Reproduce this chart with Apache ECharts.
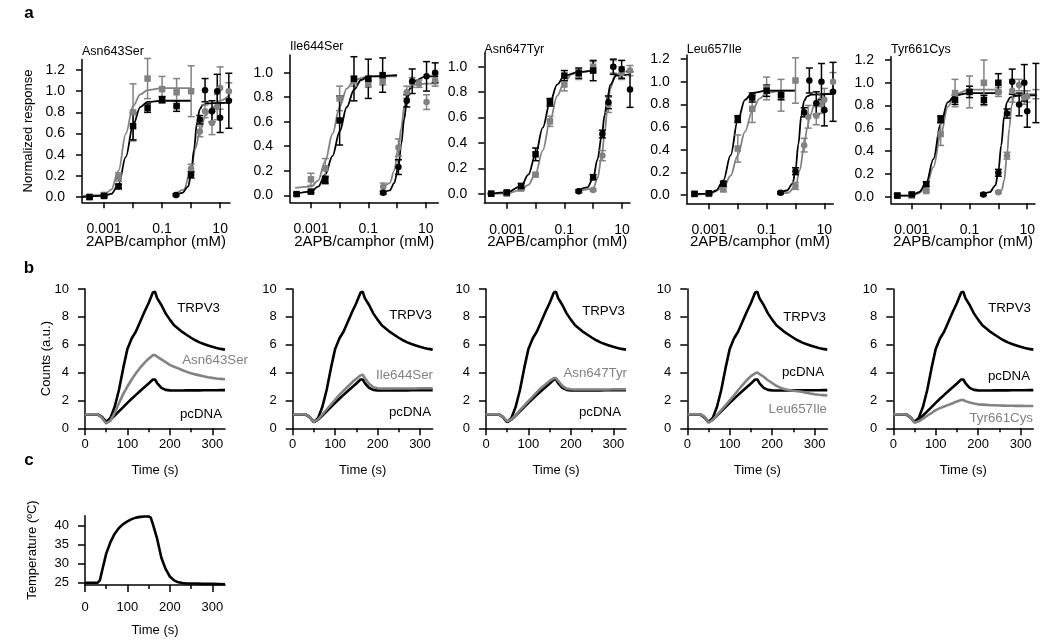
<!DOCTYPE html>
<html><head><meta charset="utf-8">
<script src="https://cdn.jsdelivr.net/npm/echarts@6/dist/echarts.min.js"></script>
<style>html,body{margin:0;padding:0;background:#fff}#c{width:1050px;height:642px}</style>
</head><body><div id="c"></div><script>
// ---------------- DATA ----------------
const mutantNames = ['Asn643Ser','Ile644Ser','Asn647Tyr','Leu657Ile','Tyr661Cys'];
// dose axis (log10 of mM)
const doseTickLogs = [-3,-2,-1,0,1];
const doseLabelLogs = [-3,-1,1];
const doseLabelText = ['0.001','0.1','10'];
const respTicks12 = [0,0.2,0.4,0.6,0.8,1.0,1.2];
const respTicks10 = [0,0.2,0.4,0.6,0.8,1.0];
const countTicks = [0,2,4,6,8,10];
const tempTicks = [25,30,35,40];
const timeMajorTicks = [0,100,200,300];
const timeMinorTicks = [50,150,250];

// points: [log10 conc (mM), normalized response, s.e.m.]
const a1ApbMut = [[-3.5,0.00,0.01],[-3,0.02,0.02],[-2.5,0.19,0.04],[-2,0.80,0.27],[-1.5,1.12,0.19],[-1,1.02,0.12],[-0.5,0.99,0.13],[0,1.00,0.24]];
const a1ApbWt  = [[-3.5,0.00,0.01],[-3,0.01,0.01],[-2.5,0.10,0.02],[-2,0.67,0.13],[-1.5,0.84,0.04],[-1,0.92,0.03],[-0.5,0.86,0.05]];
const a1CamMut = [[-0.52,0.02,0.01],[0,0.27,0.04],[0.3,0.62,0.05],[0.48,0.81,0.06],[0.72,0.70,0.11],[0.9,0.85,0.12],[1.0,1.03,0.2],[1.3,1.00,0.08]];
const wtCam    = [[-0.52,0.02,0.01],[0,0.21,0.03],[0.3,0.73,0.04],[0.48,1.01,0.11],[0.72,0.81,0.1],[0.9,1.00,0.16],[1.0,0.75,0.14],[1.3,0.91,0.26]];

const a2ApbMut = [[-3,0.13,0.05],[-2.5,0.22,0.08],[-2,0.79,0.1],[-1.5,0.93,0.04],[-1,0.91,0.03],[-0.5,0.93,0.03]];
const a2ApbWt  = [[-3.5,0.01,0.01],[-3,0.03,0.01],[-2.5,0.125,0.03],[-2,0.61,0.2],[-1.5,0.95,0.18],[-1,0.95,0.16],[-0.5,0.98,0.14]];
const a2CamMut = [[-0.48,0.07,0.03],[0.05,0.39,0.07],[0.34,0.84,0.05],[0.53,0.92,0.04],[0.77,0.91,0.03],[1.03,0.76,0.06],[1.33,0.94,0.05]];
const a2CamWt  = [[-0.48,0.02,0.01],[0.05,0.23,0.06],[0.34,0.77,0.05],[0.53,0.93,0.1],[1.03,0.97,0.12],[1.33,1.00,0.08]];

const a3ApbMut = [[-3.54,0.00,0.005],[-3,0.00,0.01],[-2.5,0.04,0.01],[-2,0.15,0.01],[-1.5,0.57,0.04],[-1,0.86,0.05],[-0.5,0.94,0.04],[0,1.00,0.04]];
const a3ApbWt  = [[-3.54,0.00,0.005],[-3,0.01,0.01],[-2.5,0.06,0.02],[-2,0.31,0.05],[-1.5,0.72,0.03],[-1,0.93,0.04],[-0.5,0.95,0.04],[0,0.97,0.08]];
const a3CamMut = [[-0.5,0.02,0.01],[0,0.03,0.01],[0.32,0.30,0.04],[0.53,0.70,0.06],[0.7,1.00,0.05],[0.99,0.95,0.05],[1.28,0.97,0.04]];
const a3CamWt  = [[-0.5,0.02,0.01],[0,0.13,0.02],[0.32,0.47,0.03],[0.53,0.72,0.05],[0.7,1.00,0.06],[0.99,0.98,0.07],[1.28,0.82,0.14]];

const a4ApbMut = [[-3.5,0.01,0.01],[-3,0.01,0.01],[-2.5,0.05,0.02],[-2,0.41,0.12],[-1.5,0.76,0.12],[-1,0.94,0.1],[-0.5,0.88,0.14],[0,1.01,0.2]];
const a4ApbWt  = [[-3.5,0.01,0.01],[-3,0.015,0.01],[-2.5,0.10,0.02],[-2,0.67,0.03],[-1.5,0.86,0.04],[-1,0.92,0.05],[-0.5,0.88,0.04]];
const a4CamMut = [[0,0.08,0.03],[0.3,0.44,0.06],[0.44,0.69,0.1],[0.72,0.70,0.08],[0.9,0.80,0.08],[1.0,0.84,0.1],[1.3,1.00,0.08]];

const a5ApbMut = [[-3.5,0.01,0.01],[-3,0.01,0.01],[-2.5,0.05,0.01],[-2,0.55,0.1],[-1.5,0.91,0.12],[-1,0.92,0.14],[-0.5,1.00,0.2],[0,0.92,0.04]];
const a5ApbWt  = [[-3.5,0.01,0.01],[-3,0.02,0.01],[-2.5,0.11,0.02],[-2,0.68,0.03],[-1.5,0.85,0.04],[-1,0.92,0.05],[-0.5,0.85,0.04],[0,1.00,0.08]];
const a5CamMut = [[0,0.04,0.01],[0.3,0.36,0.03],[0.48,0.93,0.1],[0.72,0.98,0.05],[0.9,0.87,0.06],[1.0,0.88,0.05],[1.3,0.90,0.04]];

// fitted curves: [log10 conc, response]
const a1FitApbMut = [[-3.75,0.01],[-3,0.02],[-2.75,0.07],[-2.5,0.25],[-2.25,0.6],[-2,0.86],[-1.75,0.97],[-1.5,1.01],[-1,1.03],[0,1.03]];
const a1FitApbWt  = [[-3.75,0.0],[-3,0.01],[-2.75,0.03],[-2.5,0.12],[-2.25,0.38],[-2,0.68],[-1.75,0.85],[-1.5,0.9],[-1,0.91],[0,0.91]];
const a1FitCamMut = [[-0.52,0.03],[-0.25,0.07],[0,0.27],[0.15,0.46],[0.3,0.62],[0.5,0.77],[0.7,0.84],[1.0,0.91],[1.34,0.97]];
const wtFitCam    = [[-0.52,0.02],[-0.3,0.04],[-0.1,0.1],[0,0.22],[0.1,0.45],[0.2,0.7],[0.3,0.83],[0.4,0.87],[0.55,0.885],[1.0,0.89],[1.34,0.89]];

const a2FitApbMut = [[-3.55,0.06],[-3,0.07],[-2.75,0.12],[-2.5,0.28],[-2.25,0.5],[-2,0.72],[-1.75,0.87],[-1.5,0.94],[-1,0.97],[0,0.97]];
const a2FitApbWt  = [[-3.55,0.01],[-3,0.03],[-2.75,0.07],[-2.5,0.17],[-2.25,0.32],[-2,0.52],[-1.75,0.72],[-1.5,0.86],[-1.25,0.94],[-1,0.97],[0,0.98]];
const a2FitCamMut = [[-0.48,0.06],[-0.25,0.1],[-0.1,0.2],[0.05,0.39],[0.15,0.55],[0.25,0.72],[0.34,0.82],[0.45,0.87],[0.6,0.9],[1,0.91],[1.44,0.91]];
const a2FitCamWt  = [[-0.48,0.02],[-0.25,0.04],[-0.1,0.1],[0.05,0.23],[0.15,0.42],[0.25,0.62],[0.34,0.77],[0.45,0.87],[0.6,0.93],[1,0.97],[1.44,0.97]];

const a3FitApbMut = [[-3.55,0.0],[-3,0.0],[-2.5,0.03],[-2.25,0.07],[-2,0.16],[-1.75,0.34],[-1.5,0.57],[-1.25,0.77],[-1,0.88],[-0.75,0.94],[-0.5,0.96],[0,0.97]];
const a3FitApbWt  = [[-3.55,0.0],[-3,0.01],[-2.5,0.06],[-2.25,0.15],[-2,0.31],[-1.75,0.52],[-1.5,0.72],[-1.25,0.86],[-1,0.93],[-0.5,0.96],[0,0.97]];
const a3FitCamMut = [[-0.5,0.02],[0,0.04],[0.15,0.12],[0.3,0.3],[0.4,0.48],[0.5,0.68],[0.6,0.83],[0.75,0.93],[1,0.96],[1.28,0.97]];
const a3FitCamWt  = [[-0.5,0.03],[-0.2,0.05],[0,0.12],[0.15,0.27],[0.3,0.46],[0.4,0.62],[0.5,0.76],[0.6,0.86],[0.8,0.93],[1.28,0.94]];

const a4FitApbMut = [[-3.5,0.0],[-3,0.01],[-2.5,0.06],[-2.25,0.17],[-2,0.35],[-1.75,0.56],[-1.5,0.74],[-1.25,0.85],[-1,0.9],[-0.5,0.92],[0,0.92]];
const a4FitApbWt  = [[-3.5,0.01],[-3,0.01],[-2.75,0.04],[-2.5,0.13],[-2.25,0.35],[-2,0.66],[-1.75,0.84],[-1.5,0.9],[-1,0.92],[0,0.92]];
const a4FitCamMut = [[-0.54,0.01],[-0.25,0.02],[0,0.08],[0.15,0.22],[0.3,0.44],[0.4,0.58],[0.5,0.7],[0.7,0.83],[1,0.89],[1.31,0.9]];

const a5FitApbMut = [[-3.5,0.01],[-3,0.01],[-2.75,0.03],[-2.5,0.09],[-2.25,0.26],[-2,0.54],[-1.75,0.79],[-1.5,0.9],[-1,0.94],[0,0.94]];
const a5FitApbWt  = [[-3.5,0.01],[-3,0.01],[-2.75,0.04],[-2.5,0.12],[-2.25,0.33],[-2,0.64],[-1.75,0.83],[-1.5,0.89],[-1,0.91],[0,0.91]];
const a5FitCamMut = [[0,0.03],[0.12,0.06],[0.2,0.14],[0.3,0.37],[0.38,0.6],[0.46,0.8],[0.55,0.88],[0.7,0.9],[1.3,0.9]];

// panel b: Ca2+ imaging counts vs time
const traceTime = [0,10,20,30,40,50,60,70,80,90,100,110,120,130,140,150,160,165,170,180,190,200,210,220,230,240,250,260,270,280,290,300,310,320,330];
const trpv3Counts = [1.0,1.0,1.0,1.0,0.8,0.45,0.75,1.55,2.75,4.3,5.7,6.45,6.95,7.65,8.35,9.0,9.75,9.8,9.35,8.85,8.25,7.8,7.4,7.15,6.9,6.7,6.5,6.32,6.17,6.05,5.95,5.85,5.77,5.7,5.65];
const pcdnaCounts = [1.0,1.0,1.0,1.0,0.8,0.45,0.62,0.92,1.22,1.52,1.82,2.12,2.4,2.68,2.95,3.22,3.5,3.5,3.25,2.9,2.76,2.72,2.71,2.71,2.71,2.72,2.72,2.72,2.72,2.73,2.73,2.73,2.73,2.74,2.74];
const asn643SerCounts = [1.0,1.0,1.0,1.0,0.75,0.35,0.55,1.1,1.8,2.45,3.0,3.5,3.95,4.35,4.7,5.0,5.25,5.25,5.15,4.95,4.75,4.55,4.42,4.3,4.17,4.05,3.95,3.87,3.8,3.73,3.67,3.62,3.58,3.55,3.52];
const ile644SerCounts = [1.0,1.0,1.0,1.0,0.8,0.45,0.65,1.0,1.35,1.7,2.05,2.4,2.7,3.0,3.3,3.55,3.8,3.85,3.6,3.2,2.95,2.88,2.86,2.86,2.86,2.86,2.86,2.86,2.86,2.86,2.86,2.87,2.87,2.87,2.87];
const asn647TyrCounts = [1.0,1.0,1.0,1.0,0.8,0.5,0.65,0.95,1.3,1.62,1.95,2.28,2.6,2.9,3.15,3.4,3.6,3.6,3.4,3.05,2.85,2.8,2.78,2.78,2.78,2.78,2.78,2.78,2.79,2.79,2.79,2.8,2.8,2.8,2.8];
const leu657IleCounts = [1.0,1.0,1.0,1.0,0.85,0.4,0.6,0.95,1.3,1.65,2.0,2.35,2.75,3.1,3.45,3.75,3.95,4.0,3.9,3.7,3.45,3.25,3.05,2.9,2.8,2.74,2.7,2.66,2.62,2.56,2.5,2.45,2.41,2.38,2.35];
const tyr661CysCounts = [1.0,1.0,1.0,1.0,0.8,0.4,0.5,0.7,0.9,1.1,1.3,1.45,1.57,1.68,1.8,1.93,2.03,2.03,1.95,1.85,1.78,1.72,1.7,1.68,1.66,1.65,1.64,1.63,1.62,1.62,1.61,1.61,1.6,1.6,1.6];

// panel c: temperature
const tempTime = [0,10,20,30,35,40,50,60,70,80,90,100,110,120,130,140,150,155,160,170,180,190,200,210,220,230,240,260,280,300,330];
const tempC = [25.0,25.0,25.0,25.0,25.6,28.0,32.6,35.6,37.8,39.3,40.3,41.0,41.6,42.0,42.2,42.3,42.3,42.0,40.3,36.5,31.5,28.6,26.6,25.6,25.1,24.9,24.8,24.8,24.7,24.7,24.6];

// ---------------- BUILD ----------------
const GRAY = '#828282', BLACK = '#000000';
const FAM = '"Liberation Sans", Arial, Helvetica, sans-serif';
const aPanels = [
  {pts:[a1ApbMut,a1ApbWt,a1CamMut,wtCam], fits:[a1FitApbMut,a1FitApbWt,a1FitCamMut,wtFitCam]},
  {pts:[a2ApbMut,a2ApbWt,a2CamMut,a2CamWt], fits:[a2FitApbMut,a2FitApbWt,a2FitCamMut,a2FitCamWt]},
  {pts:[a3ApbMut,a3ApbWt,a3CamMut,a3CamWt], fits:[a3FitApbMut,a3FitApbWt,a3FitCamMut,a3FitCamWt]},
  {pts:[a4ApbMut,a4ApbWt,a4CamMut,wtCam], fits:[a4FitApbMut,a4FitApbWt,a4FitCamMut,wtFitCam]},
  {pts:[a5ApbMut,a5ApbWt,a5CamMut,wtCam], fits:[a5FitApbMut,a5FitApbWt,a5FitCamMut,wtFitCam]}
];
const mutantCounts = [asn643SerCounts, ile644SerCounts, asn647TyrCounts, leu657IleCounts, tyr661CysCounts];

const aLayout = [
  {left:82, top:59.5, width:148, height:142.8, xr:[-3.76,1.34], yr:[-0.05,1.3], yt:respTicks12},
  {left:290, top:55, width:148.3, height:147.3, xr:[-3.73,1.44], yr:[-0.057,1.144], yt:respTicks10},
  {left:484.3, top:53.3, width:145.7, height:149.4, xr:[-3.78,1.28], yr:[-0.071,1.106], yt:respTicks10},
  {left:686.7, top:55, width:146.6, height:148.3, xr:[-3.77,1.31], yr:[-0.073,1.235], yt:respTicks12},
  {left:891, top:56.7, width:144, height:146.6, xr:[-3.72,1.27], yr:[-0.058,1.229], yt:respTicks12}
];
const bLefts = [85, 292.7, 486, 687.3, 893.3];

const grids = [], xAxes = [], yAxes = [], series = [], graphics = [];
const lineSt = {color:BLACK, width:1.5};
function axisBase(gi, min, max, ticks, labels, fmt, tickLen, margin, fs) {
  return {
    type:'value', gridIndex:gi, min:min, max:max, scale:false,
    axisLine:{show:true, onZero:false, lineStyle:lineSt},
    axisTick:{show:true, inside:false, length:tickLen, customValues:ticks, lineStyle:lineSt},
    axisLabel:{show:true, customValues:labels, formatter:fmt, margin:margin, color:BLACK, fontSize:fs, fontFamily:FAM, hideOverlap:false},
    splitLine:{show:false}, minorTick:{show:false}
  };
}
function errorBars(data, color, idx) {
  return {
    type:'custom', xAxisIndex:idx, yAxisIndex:idx, silent:true, z:3, clip:false,
    data:data.map(d => [d[0], d[1]-d[2], d[1]+d[2]]),
    encode:{x:0, y:[1,2]},
    renderItem:function(params, api){
      const x = api.value(0);
      const lo = api.coord([x, api.value(1)]);
      const hi = api.coord([x, api.value(2)]);
      const w = 3.5;
      const st = {stroke:color, lineWidth:1.5};
      return {type:'group', children:[
        {type:'line', shape:{x1:lo[0],y1:lo[1],x2:hi[0],y2:hi[1]}, style:st},
        {type:'line', shape:{x1:lo[0]-w,y1:lo[1],x2:lo[0]+w,y2:lo[1]}, style:st},
        {type:'line', shape:{x1:hi[0]-w,y1:hi[1],x2:hi[0]+w,y2:hi[1]}, style:st}
      ]};
    }
  };
}
function txt(x, y, s, opt) {
  opt = opt || {};
  graphics.push({
    type:'text', x:x, y:y, rotation:opt.rot || 0, silent:true, z:100,
    style:{text:s, fill:opt.color || BLACK,
      font:(opt.bold ? 'bold ' : '') + (opt.size || 13) + 'px ' + FAM,
      textAlign:opt.align || 'center', align:opt.align || 'center',
      textVerticalAlign:'middle', verticalAlign:'middle'}
  });
}

// ---- panel a
aLayout.forEach((L, i) => {
  grids.push({left:L.left, top:L.top, width:L.width, height:L.height, containLabel:false, outerBoundsMode:'none'});
  xAxes.push(axisBase(i, L.xr[0], L.xr[1], doseTickLogs, doseLabelLogs,
    v => doseLabelText[doseLabelLogs.indexOf(Math.round(v))], 6, 20, 14));
  yAxes.push(axisBase(i, L.yr[0], L.yr[1], L.yt, L.yt, v => v.toFixed(1), 6, 17, 14));
  const P = aPanels[i];
  const colors = [GRAY, BLACK, GRAY, BLACK];
  const shapes = ['rect','rect','circle','circle'];
  P.fits.forEach((d, k) => series.push({
    type:'line', xAxisIndex:i, yAxisIndex:i, data:d, symbol:'none', showSymbol:false,
    smooth:0.35, smoothMonotone:'x', lineStyle:{color:colors[k], width:1.8}, z:2, silent:true
  }));
  P.pts.forEach((d, k) => {
    series.push(errorBars(d, colors[k], i));
    series.push({type:'scatter', xAxisIndex:i, yAxisIndex:i, data:d.map(v => [v[0], v[1]]),
      symbol:shapes[k], symbolSize:6.5, itemStyle:{color:colors[k], opacity:1}, z:4, silent:true});
  });
  txt(L.left, [52,47,50,50,50][i], mutantNames[i], {align:'left', size:12.5});
  txt(L.left + L.width/2, 241.5, '2APB/camphor (mM)', {size:15});
});

// ---- panel b
bLefts.forEach((left, j) => {
  const gi = 5 + j;
  grids.push({left:left, top:289, width:140, height:139.3, containLabel:false, outerBoundsMode:'none'});
  xAxes.push(axisBase(gi, 0, 330, timeMajorTicks, timeMajorTicks, v => String(v), 7, 10, 13));
  yAxes.push(axisBase(gi, 0, 10, countTicks, countTicks, v => String(v), 7, 16, 13));
  const mk = (d, c) => ({type:'line', xAxisIndex:gi, yAxisIndex:gi, data:traceTime.map((t, k) => [t, d[k]]),
    symbol:'none', showSymbol:false, lineStyle:{color:c, width:2.6}, z:3, silent:true});
  series.push(mk(trpv3Counts, BLACK));
  series.push(mk(pcdnaCounts, BLACK));
  series.push(mk(mutantCounts[j], GRAY));
  txt(left + 70, 470, 'Time (s)', {size:13});
});
// ---- panel c
grids.push({left:85, top:515.7, width:140, height:69.3, containLabel:false, outerBoundsMode:'none'});
xAxes.push(axisBase(10, 0, 330, timeMajorTicks, timeMajorTicks, v => String(v), 7, 16, 13));
yAxes.push(axisBase(10, 24.4, 42.5, tempTicks, tempTicks, v => String(v), 7, 16, 13));
series.push({type:'line', xAxisIndex:10, yAxisIndex:10, data:tempTime.map((t, k) => [t, tempC[k]]),
  symbol:'none', showSymbol:false, lineStyle:{color:BLACK, width:2.6}, z:3, silent:true});

// minor time ticks (panels b, c)
[5,6,7,8,9,10].forEach(gi => {
  xAxes.push({type:'value', gridIndex:gi, min:0, max:330, position:'bottom',
    axisLine:{show:false, onZero:false}, axisTick:{show:true, length:4, customValues:timeMinorTicks, lineStyle:lineSt},
    axisLabel:{show:false}, splitLine:{show:false}});
});

// texts
txt(29, 13, 'a', {bold:true, size:17});
txt(29, 268, 'b', {bold:true, size:17});
txt(29, 460, 'c', {bold:true, size:17});
txt(28.3, 131, 'Normalized response', {rot:Math.PI/2, size:13});
txt(46.7, 358.6, 'Counts (a.u.)', {rot:Math.PI/2, size:13});
txt(32.3, 550, 'Temperature (ºC)', {rot:Math.PI/2, size:13});
txt(155, 630, 'Time (s)', {size:13});
const traceLabels = [
  [[220,308,'TRPV3',BLACK],[248,360,mutantNames[0],GRAY],[222,414,'pcDNA',BLACK]],
  [[432,315,'TRPV3',BLACK],[433,375,mutantNames[1],GRAY],[431,412,'pcDNA',BLACK]],
  [[625,311,'TRPV3',BLACK],[627,373,mutantNames[2],GRAY],[621,412,'pcDNA',BLACK]],
  [[826,317,'TRPV3',BLACK],[824,372,'pcDNA',BLACK],[827,409,mutantNames[3],GRAY]],
  [[1031,308,'TRPV3',BLACK],[1030,376,'pcDNA',BLACK],[1033,418,mutantNames[4],GRAY]]
];
traceLabels.forEach(g => g.forEach(l => txt(l[0], l[1], l[2], {align:'right', color:l[3], size:13.3})));

const chart = echarts.init(document.getElementById('c'), null, {renderer:'canvas'});
chart.setOption({
  animation:false, backgroundColor:'#ffffff',
  textStyle:{fontFamily:FAM},
  grid:grids, xAxis:xAxes, yAxis:yAxes, series:series, graphic:{elements:graphics}
});
</script></body></html>
